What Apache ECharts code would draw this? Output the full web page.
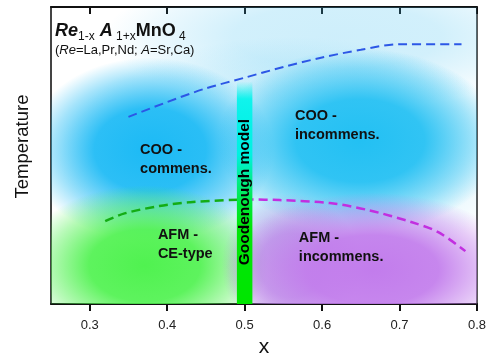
<!DOCTYPE html>
<html>
<head>
<meta charset="utf-8">
<script src="https://cdn.jsdelivr.net/npm/echarts@6/dist/echarts.min.js"></script>
<style>
html,body{margin:0;padding:0;background:#fff;}
#chart{width:499px;height:359px;}
</style>
</head>
<body>
<div id="chart"></div>
<script>
// ---- data ----
const xTicks = [0.3, 0.4, 0.5, 0.6, 0.7, 0.8];
const xTickLabels = ['0.3', '0.4', '0.5', '0.6', '0.7', '0.8'];
const cooLineX = [0.35, 0.40, 0.45, 0.50, 0.55, 0.60, 0.65, 0.70, 0.78];
const cooLineT = [63.0, 68.0, 72.6, 76.2, 79.8, 83.0, 85.6, 87.5, 87.5];
const afmCeX = [0.32, 0.345, 0.39, 0.43, 0.50];
const afmCeT = [27.9, 30.5, 33.0, 34.3, 35.2];
const afmIncX = [0.50, 0.545, 0.61, 0.66, 0.715, 0.75, 0.785];
const afmIncT = [35.2, 35.0, 34.0, 31.6, 27.6, 24.2, 17.8];
const goodenoughX = [0.49, 0.51];
const goodenoughTop = 75;

// ---- decoration (phase-region shading, annotations) ----
const FONT = "'Liberation Sans', Arial, sans-serif";
const regionShades = [
  // cx, cy, rx, ry, rgb, alpha
  [0.62, 90, 0.3, 24, '60,190,240', 0.25],
  [0.56, 50, 0.30, 40, '70,195,240', 0.3],
  [0.378, 52, 0.16, 31, '28,186,245', 1],
  [0.649, 55, 0.185, 31, '35,192,243', 1],
  [0.371, 13, 0.16, 27, '80,242,80', 1],
  [0.56, 13, 0.09, 24, '175,135,225', 0.75],
  [0.665, 11.5, 0.19, 26, '194,124,236', 1]
];
const regionLabels = [
  [0.365, 48.7, 'COO -\ncommens.'],
  [0.388, 19.9, 'AFM -\nCE-type'],
  [0.565, 60.1, 'COO -\nincommens.'],
  [0.570, 18.9, 'AFM -\nincommens.']
];

const chart = echarts.init(document.getElementById('chart'), null, {renderer: 'canvas'});

function zip(a, b) { return a.map((v, i) => [v, b[i]]); }

const option = {
  animation: false,
  backgroundColor: '#fff',
  title: {
    left: 50, top: 15, itemGap: 2,
    text: '{bi|Re}{sub|1-x} {bi|A}{sub| 1+x}{b|MnO}{sub| 4}',
    textStyle: {
      fontFamily: FONT,
      rich: {
        bi: {fontSize: 18, fontWeight: 'bold', fontStyle: 'italic', fontFamily: FONT, color: '#111', lineHeight: 23},
        b: {fontSize: 18, fontWeight: 'bold', fontFamily: FONT, color: '#111', lineHeight: 23},
        sub: {fontSize: 12, fontWeight: 'normal', fontFamily: FONT, color: '#111', lineHeight: 13, verticalAlign: 'bottom'}
      }
    },
    subtext: '({i|Re}=La,Pr,Nd; {i|A}=Sr,Ca)',
    subtextStyle: {
      fontSize: 13, color: '#111', fontFamily: FONT, lineHeight: 16,
      rich: {i: {fontSize: 13, fontStyle: 'italic', color: '#111', fontFamily: FONT}}
    }
  },
  grid: {left: 51, right: 22, top: 7, bottom: 55, containLabel: false, outerBoundsMode: 'none'},
  xAxis: [{
    type: 'value', min: 0.25, max: 0.8, position: 'bottom',
    name: 'x', nameLocation: 'middle', nameGap: 33,
    nameTextStyle: {fontSize: 21, color: '#111', fontFamily: FONT},
    axisLine: {show: true, onZero: false, lineStyle: {color: '#111', width: 2}},
    axisTick: {show: true, inside: false, length: 7, customValues: xTicks, lineStyle: {color: '#111', width: 2}},
    axisLabel: {show: true, customValues: xTicks, margin: 15, fontSize: 13, color: '#222', fontFamily: FONT,
      formatter: v => { const i = xTicks.findIndex(t => Math.abs(t - v) < 1e-6); return i >= 0 ? xTickLabels[i] : ''; }},
    splitLine: {show: false}
  }, {
    type: 'value', min: 0.25, max: 0.8, position: 'top',
    axisLine: {show: true, onZero: false, lineStyle: {color: '#111', width: 2}},
    axisTick: {show: true, inside: true, length: 7, customValues: xTicks, lineStyle: {color: '#111', width: 2}},
    axisLabel: {show: false},
    splitLine: {show: false}
  }],
  yAxis: [{
    type: 'value', min: 0, max: 100, position: 'left',
    name: 'Temperature', nameLocation: 'middle', nameGap: 19, nameRotate: 90,
    nameTextStyle: {fontSize: 18.5, color: '#111', fontFamily: FONT, padding: [0, 0, 0, 18]},
    axisLine: {show: true, onZero: false, lineStyle: {color: '#444', width: 2}},
    axisTick: {show: false}, axisLabel: {show: false}, splitLine: {show: false}
  }, {
    type: 'value', min: 0, max: 100, position: 'right',
    axisLine: {show: true, onZero: false, lineStyle: {color: '#222', width: 1.5}},
    axisTick: {show: false}, axisLabel: {show: false}, splitLine: {show: false}
  }],
  series: [
    {
      type: 'custom', name: 'shade', z: 1, clip: true, silent: true,
      data: regionShades.map(s => [s[0], s[1]]),
      encode: {x: 0, y: 1},
      renderItem: (params, api) => {
        const s = regionShades[params.dataIndex];
        const c = api.coord([s[0], s[1]]);
        const sz = api.size([s[2], s[3]]);
        const a = s[5];
        return {
          type: 'circle',
          shape: {cx: 0, cy: 0, r: 100},
          x: c[0], y: c[1], scaleX: sz[0] / 100, scaleY: sz[1] / 100,
          style: {fill: new echarts.graphic.RadialGradient(0.5, 0.5, 0.5, [
            {offset: 0, color: 'rgba(' + s[4] + ',' + a + ')'},
            {offset: 0.45, color: 'rgba(' + s[4] + ',' + (a * 0.92) + ')'},
            {offset: 0.78, color: 'rgba(' + s[4] + ',' + (a * 0.4) + ')'},
            {offset: 1, color: 'rgba(' + s[4] + ',0)'}
          ])}
        };
      }
    },
    {
      type: 'line', name: 'COO', z: 3, data: zip(cooLineX, cooLineT), smooth: 0.3,
      showSymbol: false, lineStyle: {color: '#2c57e6', width: 2, type: [9, 5]}
    },
    {
      type: 'line', name: 'AFM CE', z: 3, data: zip(afmCeX, afmCeT), smooth: 0.3,
      showSymbol: false, lineStyle: {color: '#14ad14', width: 2.5, type: [9, 5]}
    },
    {
      type: 'line', name: 'AFM inc', z: 3, data: zip(afmIncX, afmIncT), smooth: 0.3,
      showSymbol: false, lineStyle: {color: '#c22fe0', width: 2.5, type: [9, 5]}
    },
    {
      type: 'custom', name: 'Goodenough', z: 4, clip: true, silent: true,
      data: [[goodenoughX[0], goodenoughX[1], goodenoughTop]],
      encode: {x: [0, 1], y: 2},
      renderItem: (params, api) => {
        const p0 = api.coord([api.value(0), api.value(2)]);
        const p1 = api.coord([api.value(1), 0]);
        return {
          type: 'group',
          children: [{
            type: 'rect',
            shape: {x: p0[0], y: p0[1], width: p1[0] - p0[0], height: p1[1] - p0[1]},
            style: {fill: new echarts.graphic.LinearGradient(0, 0, 0, 1, [
              {offset: 0, color: 'rgba(0,245,235,0)'},
              {offset: 0.08, color: 'rgba(0,245,235,0.9)'},
              {offset: 0.33, color: 'rgba(0,242,225,1)'},
              {offset: 0.55, color: 'rgba(0,232,60,1)'},
              {offset: 0.65, color: 'rgba(0,230,10,1)'},
              {offset: 1, color: 'rgba(0,230,0,1)'}
            ])}
          }, {
            type: 'text',
            x: (p0[0] + p1[0]) / 2, y: api.coord([0, 37.7])[1],
            rotation: Math.PI / 2,
            style: {text: 'Goodenough model', fill: '#000', fontSize: 15.5, fontWeight: 'bold', fontFamily: FONT,
              align: 'center', verticalAlign: 'middle'}
          }]
        };
      }
    },
    {
      type: 'custom', name: 'labels', z: 5, silent: true,
      data: regionLabels.map(l => [l[0], l[1]]),
      encode: {x: 0, y: 1},
      renderItem: (params, api) => {
        const l = regionLabels[params.dataIndex];
        const c = api.coord([l[0], l[1]]);
        return {
          type: 'text', x: c[0], y: c[1],
          style: {text: l[2], fill: '#111', fontSize: 14.5, fontWeight: 'bold', fontFamily: FONT,
            align: 'left', verticalAlign: 'middle', lineHeight: 19}
        };
      }
    }
  ]
};
chart.setOption(option);
</script>
</body>
</html>
